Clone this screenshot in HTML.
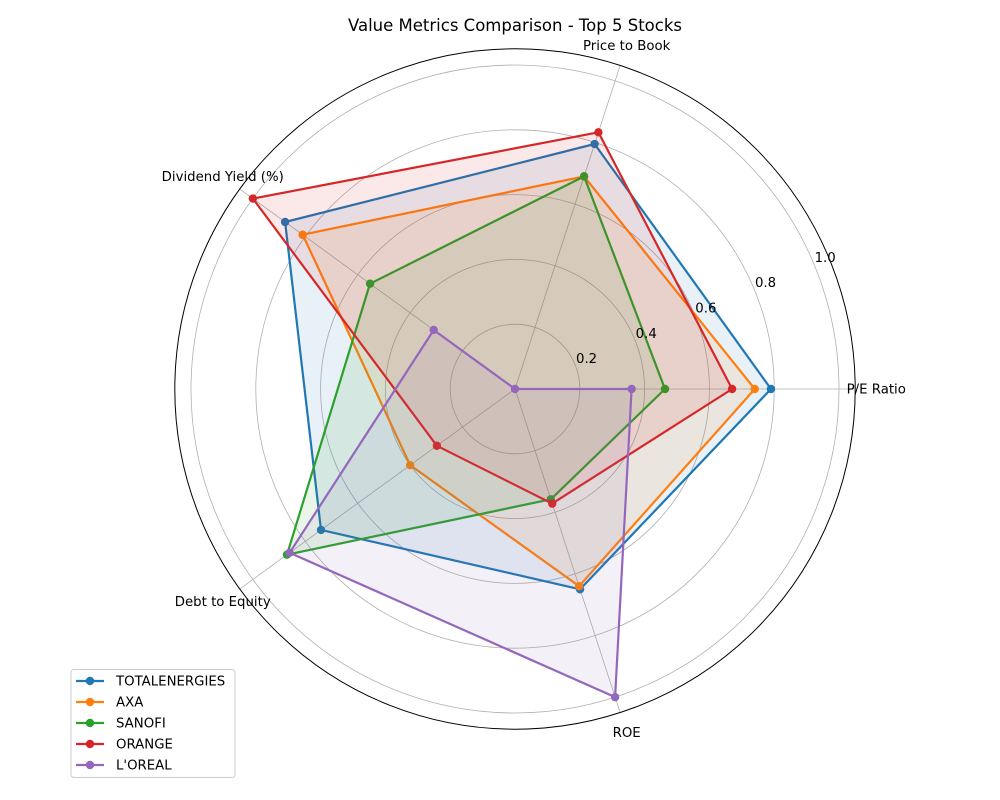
<!DOCTYPE html>
<html><head><meta charset="utf-8"><style>
html,body{margin:0;padding:0;background:#fff}
svg{display:block;font-family:"DejaVu Sans","Liberation Sans",sans-serif}
</style></head><body>
<svg id="chart" width="1000" height="800" viewBox="0 0 1000 800">
<rect width="1000" height="800" fill="#fff"/>
<text x="515" y="31" text-anchor="middle" font-size="16.5" fill="#000">Value Metrics Comparison - Top 5 Stocks</text>
<g id="grid"></g><g id="series"></g><g id="labels"></g>
<g id="legend">
<rect x="71" y="669.5" width="164" height="108" rx="3" fill="#fff" stroke="#ccc" stroke-width="1"/>
</g>
</svg>
<script>
const categories = ["P/E Ratio","Price to Book","Dividend Yield (%)","Debt to Equity","ROE"];
const seriesNames = ["TOTALENERGIES","AXA","SANOFI","ORANGE","L'OREAL"];
const totalValues = [0.79,0.795,0.877,0.74,0.65];
const axaValues = [0.74,0.69,0.81,0.40,0.64];
const sanofiValues = [0.463,0.69,0.553,0.87,0.358];
const orangeValues = [0.67,0.833,1.0,0.298,0.372];
const lorealValues = [0.36,0.0,0.31,0.86,1.0];
const radialTicks = [0.2,0.4,0.6,0.8,1.0];
const radialTickLabels = ["0.2","0.4","0.6","0.8","1.0"];
const allValues = [totalValues,axaValues,sanofiValues,orangeValues,lorealValues];
const colors = ["#1f77b4","#ff7f0e","#2ca02c","#d62728","#9467bd"];

const NS="http://www.w3.org/2000/svg";
const cx=515, cy=389, unit=324, rmax=1.05;
function ang(i){return i*2*Math.PI/categories.length;}
function pt(i,v){const a=ang(i);return [cx+Math.cos(a)*v*unit, cy-Math.sin(a)*v*unit];}
function mk(tag,attrs,parent){const e=document.createElementNS(NS,tag);for(const k in attrs)e.setAttribute(k,attrs[k]);parent.appendChild(e);return e;}

const grid=document.getElementById('grid');
radialTicks.forEach((t,k)=>{
  const c=mk('circle',{cx:cx,cy:cy,r:t*unit,fill:'none',stroke:'#b0b0b0','stroke-width':0.8},grid);
  
  
});
categories.forEach((c,i)=>{
  const p=pt(i,rmax);
  const l=mk('line',{x1:cx,y1:cy,x2:p[0],y2:p[1],stroke:'#b0b0b0','stroke-width':0.8},grid);
  
  
});
const outer=mk('circle',{cx:cx,cy:cy,r:rmax*unit,fill:'none',stroke:'#000','stroke-width':1},grid);



const ser=document.getElementById('series');
allValues.forEach((vals,s)=>{
  const g=mk('g',{},ser);
  
  
  const pts=vals.map((v,i)=>pt(i,v));
  const d=pts.map(p=>p[0].toFixed(1)+','+p[1].toFixed(1)).join(' ');
  mk('polygon',{points:d,fill:colors[s],'fill-opacity':0.1,stroke:'none'},g);
  mk('polygon',{points:d,fill:'none',stroke:colors[s],'stroke-width':2.2,'stroke-linejoin':'round'},g);
  pts.forEach(p=>{
    const m=mk('circle',{cx:p[0],cy:p[1],r:4.2,fill:colors[s]},g);
    
    
  });
});

const lab=document.getElementById('labels');
categories.forEach((c,i)=>{
  const p=pt(i,1.115);
  const t=mk('text',{x:p[0],y:p[1]+4.5,'text-anchor':'middle','font-size':13.3,fill:'#000'},lab);
  t.textContent=c;
  
  
});
radialTicks.forEach((v,k)=>{
  const a=23*Math.PI/180, r=(v+0.04)*unit;
  const t=mk('text',{x:cx+Math.cos(a)*r,y:cy-Math.sin(a)*r+4.5,'text-anchor':'middle','font-size':13.3,fill:'#000'},lab);
  t.textContent=radialTickLabels[k];
  
  
});

const leg=document.getElementById('legend');
seriesNames.forEach((n,s)=>{
  const y=681+s*21;
  const g=mk('g',{},leg);
  
  
  mk('line',{x1:76,y1:y,x2:104,y2:y,stroke:colors[s],'stroke-width':2.2},g);
  mk('circle',{cx:90,cy:y,r:4.2,fill:colors[s]},g);
  const t=mk('text',{x:116,y:y+4.5,'font-size':13.3,fill:'#000'},g);
  t.textContent=n;
});
</script>
</body></html>
